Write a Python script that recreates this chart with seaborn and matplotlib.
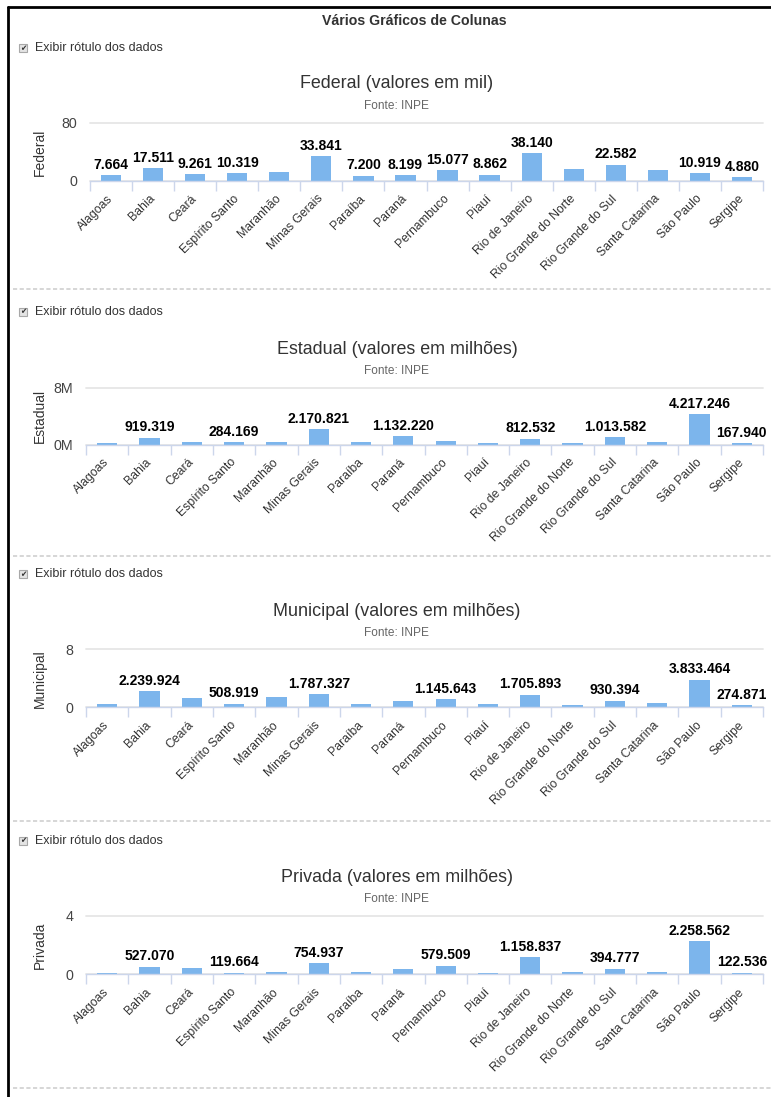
import numpy as np
import pandas as pd
import matplotlib
matplotlib.use("Agg")
import matplotlib.pyplot as plt
import seaborn as sns
from matplotlib.lines import Line2D
from matplotlib.patches import Rectangle

sns.set_theme(style="white")
plt.rcParams["font.family"] = ["Liberation Sans", "DejaVu Sans"]

# ---------------- data ----------------
estados = ["Alagoas", "Bahia", "Ceará", "Espírito Santo", "Maranhão", "Minas Gerais",
           "Paraíba", "Paraná", "Pernambuco", "Piauí", "Rio de Janeiro",
           "Rio Grande do Norte", "Rio Grande do Sul", "Santa Catarina", "São Paulo", "Sergipe"]

federal = [7664, 17511, 9261, 10319, 12000, 33841, 7200, 8199, 15077, 8862, 38140,
           16800, 22582, 14600, 10919, 4880]
estadual = [200000, 919319, 420000, 284169, 310000, 2170821, 300000, 1132220, 560000, 170000,
            812532, 160000, 1013582, 420000, 4217246, 167940]
municipal = [480000, 2239924, 1310000, 508919, 1460000, 1787327, 450000, 920000, 1145643, 430000,
             1705893, 250000, 930394, 640000, 3833464, 274871]
privada = [100000, 527070, 400000, 119664, 180000, 754937, 130000, 390000, 579509, 90000,
           1158837, 130000, 394777, 180000, 2258562, 122536]

federal_labels = ["Alagoas", "Bahia", "Ceará", "Espírito Santo", "Minas Gerais", "Paraíba", "Paraná",
                  "Pernambuco", "Piauí", "Rio de Janeiro", "Rio Grande do Sul", "São Paulo", "Sergipe"]
estadual_labels = ["Bahia", "Espírito Santo", "Minas Gerais", "Paraná", "Rio de Janeiro",
                   "Rio Grande do Sul", "São Paulo", "Sergipe"]
municipal_labels = ["Bahia", "Espírito Santo", "Minas Gerais", "Pernambuco", "Rio de Janeiro",
                    "Rio Grande do Sul", "São Paulo", "Sergipe"]
privada_labels = ["Bahia", "Espírito Santo", "Minas Gerais", "Pernambuco", "Rio de Janeiro",
                  "Rio Grande do Sul", "São Paulo", "Sergipe"]

federal_ticks = [0, 80000]
federal_ticklabels = ["0", "80"]
estadual_ticks = [0, 8000000]
estadual_ticklabels = ["0M", "8M"]
municipal_ticks = [0, 8000000]
municipal_ticklabels = ["0", "8"]
privada_ticks = [0, 4000000]
privada_ticklabels = ["0", "4"]

titles = ["Federal (valores em mil)", "Estadual (valores em milhões)",
          "Municipal (valores em milhões)", "Privada (valores em milhões)"]
ylabels = ["Federal", "Estadual", "Municipal", "Privada"]
suptitle = "Vários Gráficos de Colunas"
checkbox_text = "Exibir rótulo dos dados"
source_text = "Fonte: INPE"

# ---------------- layout ----------------
W, H = 771, 1097
fig = plt.figure(figsize=(W / 100, H / 100), dpi=100)
fig.patch.set_facecolor("white")

def fx(x):
    return x / W

def fy(y):
    return 1 - y / H

BAR = "#7cb5ec"
AXIS = "#ccd6eb"

panels = [
    dict(vals=federal, show=federal_labels, ticks=federal_ticks, tl=federal_ticklabels,
         box=(90, 122.7, 763, 181), chk=48, title=84, src=106),
    dict(vals=estadual, show=estadual_labels, ticks=estadual_ticks, tl=estadual_ticklabels,
         box=(86, 387.5, 763, 444.5), chk=312, title=349.3, src=371),
    dict(vals=municipal, show=municipal_labels, ticks=municipal_ticks, tl=municipal_ticklabels,
         box=(86, 649.3, 763, 707.3), chk=574, title=611.7, src=633.3),
    dict(vals=privada, show=privada_labels, ticks=privada_ticks, tl=privada_ticklabels,
         box=(86, 915.7, 763, 974.3), chk=841, title=877.7, src=899),
]

def fmt_br(v):
    return f"{int(v):,}".replace(",", ".")

fig.text(fx(414), fy(21), suptitle, ha="center", va="center", fontsize=10.2,
         fontweight="bold", color="#333333")

for k, p in enumerate(panels):
    l, t, r, b = p["box"]
    ax = fig.add_axes([fx(l), fy(b), (r - l) / W, (b - t) / H])
    df = pd.DataFrame({"estado": estados, "valor": p["vals"]})
    sns.barplot(data=df, x="estado", y="valor", color=BAR, saturation=1, width=0.48,
                linewidth=0, ax=ax)
    ax.set_xlim(-0.5, len(estados) - 0.5)
    ax.set_ylim(p["ticks"][0], p["ticks"][-1])
    ax.set_xlabel("")
    ax.set_ylabel("")

    # axes styling
    for s in ["left", "top", "right"]:
        ax.spines[s].set_visible(False)
    ax.spines["bottom"].set_color(AXIS)
    ax.spines["bottom"].set_linewidth(1)
    ax.set_axisbelow(True)
    ax.yaxis.grid(True, color="#e6e6e6", linewidth=1.3, clip_on=False)
    ax.set_yticks(p["ticks"])
    ax.set_yticklabels(p["tl"])
    ax.tick_params(axis="y", length=0, pad=9, labelsize=10.3, labelcolor="#444444")

    ax.set_xticks(np.arange(-0.5, len(estados), 1), minor=True)
    ax.tick_params(axis="x", which="minor", bottom=True, length=7, width=1,
                   color=AXIS, direction="out")
    ax.tick_params(axis="x", which="major", bottom=False, length=0, pad=11.5,
                   labelsize=8.8, labelcolor="#333333")
    for lbl in ax.get_xticklabels():
        lbl.set_rotation(45)
        lbl.set_ha("right")
        lbl.set_va("center")
        lbl.set_rotation_mode("anchor")

    # data labels
    for i, (name, v) in enumerate(zip(estados, p["vals"])):
        if name in p["show"]:
            ax.annotate(fmt_br(v), (i, v), xytext=(0, 2.5), textcoords="offset points",
                        ha="center", va="bottom", fontsize=10, fontweight="bold",
                        color="black", annotation_clip=False)

    # y axis title
    ax.text((40 - l) / (r - l), 0.5, ylabels[k], transform=ax.transAxes, rotation=90,
            ha="center", va="center", fontsize=10, color="#333333")

    # panel texts: checkbox + label
    cy = p["chk"]
    fig.add_artist(Rectangle((fx(19), fy(cy + 4)), 8 / W, 8 / H, transform=fig.transFigure,
                             facecolor="#e4e4e4", edgecolor="#a8a8a8", linewidth=0.8))
    fig.text(fx(23), fy(cy), "✔", family="DejaVu Sans", ha="center", va="center",
             fontsize=5.5, color="#333333")
    fig.text(fx(35), fy(cy), checkbox_text, ha="left", va="center", fontsize=9,
             color="#333333")
    fig.text(fx(397), fy(p["title"]), titles[k], ha="center", va="center", fontsize=12.9,
             color="#333333")
    fig.text(fx(396), fy(p["src"]), source_text, ha="center", va="center", fontsize=8.6,
             color="#666666")

# separators
for y in [289, 556, 821, 1088]:
    fig.add_artist(Line2D([fx(13), 1], [fy(y), fy(y)], color="#cfcfcf", linewidth=1.2,
                          linestyle=(0, (2.5, 1.5))))

# page border (left and top)
fig.add_artist(Line2D([fx(8), fx(8)], [0, fy(7)], color="black", linewidth=2))
fig.add_artist(Line2D([fx(8), 1], [fy(7), fy(7)], color="black", linewidth=2))

fig.savefig("out.png", dpi=100, facecolor="white")
